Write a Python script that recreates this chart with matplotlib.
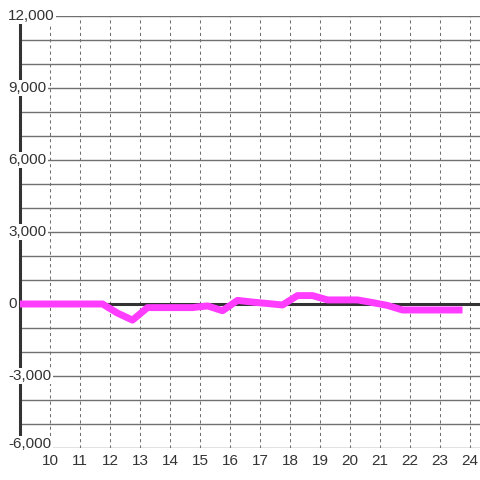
import numpy as np
from matplotlib import pyplot as plt

# hour of day vs value
hours = [9.0, 9.75, 10.25, 10.75, 11.25, 11.75, 12.25, 12.75, 13.25, 13.75,
         14.25, 14.75, 15.25, 15.75, 16.25, 16.75, 17.25, 17.75, 18.25, 18.75,
         19.25, 19.75, 20.25, 20.75, 21.25, 21.75, 22.25, 22.75, 23.25, 23.75]
values = [0, 0, 0, 0, 0, 0, -380, -670, -150, -150,
          -150, -150, -80, -280, 150, 80, 20, -40, 350, 350,
          170, 170, 170, 60, -60, -250, -250, -250, -250, -250]

x_ticks = list(range(10, 25))
y_label_values = [12000, 9000, 6000, 3000, 0, -3000, -6000]
y_label_texts = ['12,000', '9,000', '6,000', '3,000', '0', '-3,000', '-6,000']

text_color = '#333333'
grid_color = '#707070'

fig = plt.figure(figsize=(4.8, 4.8), dpi=100)
ax = fig.add_axes([20 / 480, 32 / 480, 460 / 480, 432 / 480])
ax.set_xlim(9, 9 + 460 / 30)
ax.set_ylim(-6000, 12000)

# grid
ax.set_yticks(range(-6000, 12001, 1000))
ax.set_yticklabels([])
ax.set_xticks(x_ticks)
ax.set_xticklabels([str(t) for t in x_ticks], fontsize=11, color=text_color,
                   family='Liberation Sans')
ax.tick_params(length=0, pad=4)
ax.grid(axis='y', color=grid_color, linewidth=1.0)
ax.grid(axis='x', color=grid_color, linewidth=0.75, linestyle=(0, (3, 3)))
ax.set_axisbelow(True)

for side in ['top', 'right', 'bottom']:
    ax.spines[side].set_visible(False)
ax.spines['left'].set_color(text_color)
ax.spines['left'].set_linewidth(2.2)

# zero line
ax.axhline(0, color=text_color, linewidth=2.2, zorder=2)

ax.plot(hours, values, color='#ff3cff', linewidth=5.0, zorder=3,
        solid_joinstyle='round', solid_capstyle='butt')

# y labels drawn over the axis line
for v, t in zip(y_label_values, y_label_texts):
    ax.text(-12 / 460, v, t, transform=ax.get_yaxis_transform(),
            ha='left', va='baseline' if v == -6000 else 'center',
            fontsize=11, color=text_color,
            family='Liberation Sans', clip_on=False, zorder=5,
            bbox=dict(facecolor='white', edgecolor='none', pad=1.0))

fig.savefig('out.png', dpi=100, facecolor='white')
